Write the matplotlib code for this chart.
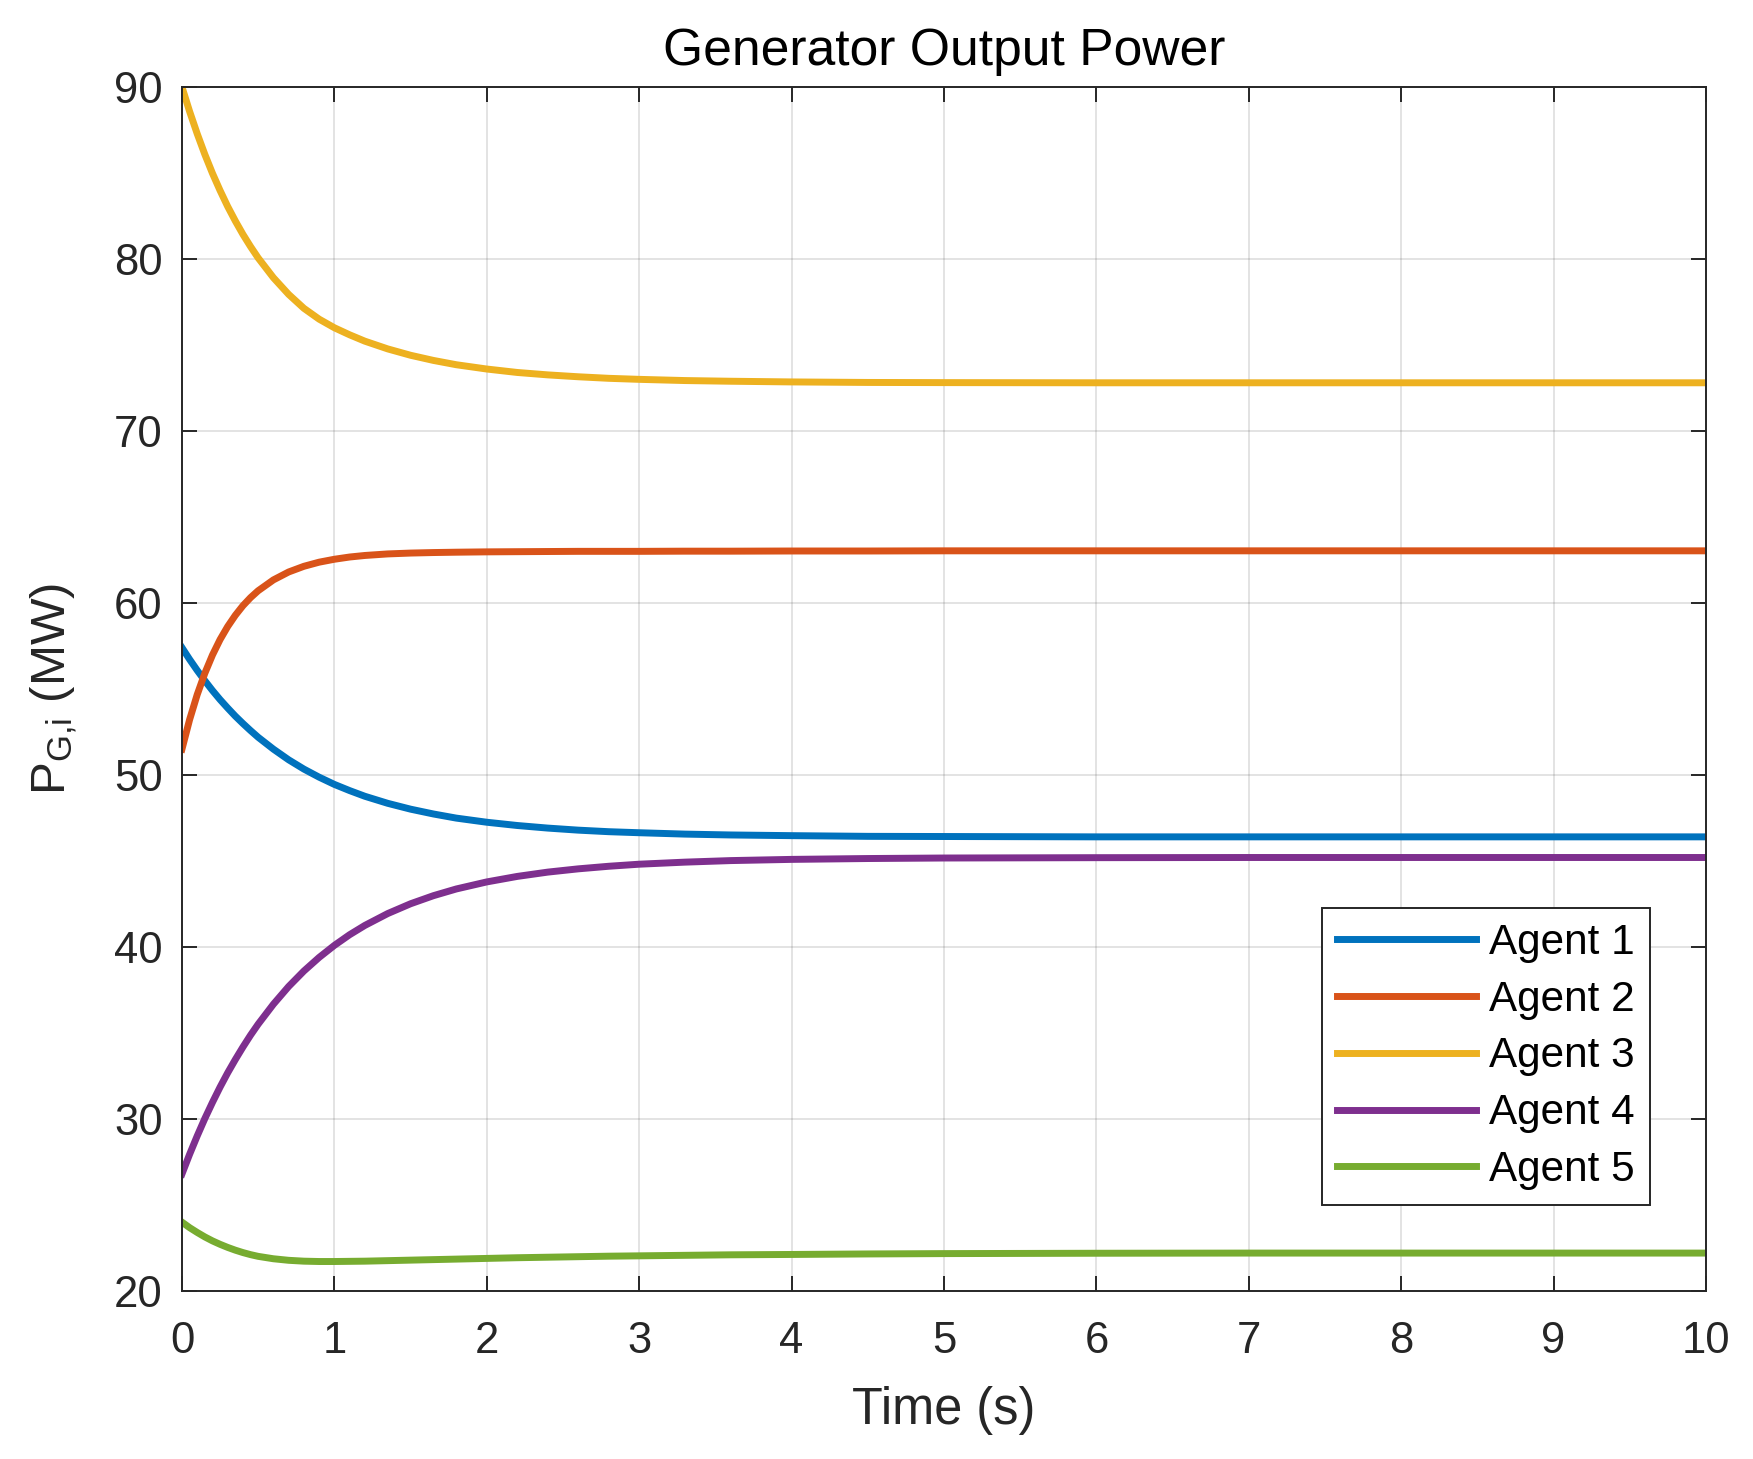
import matplotlib
matplotlib.use("Agg")
import matplotlib.pyplot as plt

# Werte
t = [0, 0.05, 0.1, 0.15, 0.2, 0.25, 0.3, 0.35, 0.4, 0.45, 0.5, 0.6, 0.7,
     0.8, 0.9, 1.0, 1.1, 1.2, 1.35, 1.5, 1.65, 1.8, 2.0, 2.2, 2.4, 2.6,
     2.8, 3.0, 3.3, 3.6, 4.0, 4.5, 5.0, 6.0, 7.0, 8.0, 9.0, 10.0]

agent1 = [57.4, 56.72, 56.08, 55.48, 54.91, 54.38, 53.89, 53.42, 52.99,
          52.58, 52.19, 51.5, 50.88, 50.34, 49.87, 49.45, 49.09, 48.76,
          48.35, 48.01, 47.73, 47.49, 47.25, 47.06, 46.91, 46.79, 46.7,
          46.64, 46.56, 46.51, 46.47, 46.43, 46.42, 46.4, 46.4, 46.4, 46.4,
          46.4]
agent2 = [51.5, 53.21, 54.67, 55.91, 56.97, 57.87, 58.63, 59.28, 59.84,
          60.31, 60.71, 61.34, 61.8, 62.13, 62.37, 62.54, 62.67, 62.76,
          62.85, 62.9, 62.93, 62.95, 62.97, 62.98, 62.99, 63.0, 63.0, 63.0,
          63.01, 63.01, 63.02, 63.02, 63.03, 63.03, 63.03, 63.03, 63.03,
          63.03]
agent3 = [90.0, 88.58, 87.28, 86.08, 84.98, 83.98, 83.05, 82.21, 81.43,
          80.72, 80.06, 78.91, 77.94, 77.13, 76.5, 76.0, 75.59, 75.22,
          74.77, 74.4, 74.1, 73.85, 73.6, 73.4, 73.26, 73.15, 73.06, 73.0,
          72.93, 72.89, 72.85, 72.82, 72.81, 72.8, 72.8, 72.8, 72.8, 72.8]
agent4 = [26.8, 27.94, 29.01, 30.02, 30.96, 31.85, 32.68, 33.45, 34.18,
          34.87, 35.51, 36.67, 37.7, 38.6, 39.39, 40.09, 40.71, 41.25,
          41.94, 42.51, 42.98, 43.37, 43.78, 44.1, 44.35, 44.54, 44.69,
          44.81, 44.93, 45.02, 45.09, 45.14, 45.17, 45.19, 45.2, 45.2, 45.2,
          45.2]
agent5 = [24.0, 23.68, 23.4, 23.14, 22.91, 22.71, 22.53, 22.37, 22.23,
          22.11, 22.01, 21.87, 21.78, 21.73, 21.71, 21.71, 21.72, 21.73,
          21.76, 21.79, 21.82, 21.85, 21.89, 21.93, 21.96, 21.99, 22.02,
          22.04, 22.07, 22.1, 22.12, 22.15, 22.17, 22.19, 22.2, 22.2, 22.2,
          22.2]

series = [agent1, agent2, agent3, agent4, agent5]
labels = ["Agent 1", "Agent 2", "Agent 3", "Agent 4", "Agent 5"]
colors = ["#0072BD", "#D95319", "#EDB120", "#7E2F8E", "#77AC30"]

plt.rcParams['font.family'] = ['Liberation Sans', 'DejaVu Sans']
plt.rcParams['mathtext.fontset'] = 'custom'
plt.rcParams['mathtext.rm'] = 'Liberation Sans'
plt.rcParams['mathtext.it'] = 'Liberation Sans'

dark = "#262626"

fig = plt.figure(figsize=(1753 / 200, 1459 / 200), dpi=200)
ax = fig.add_axes([0.1038, 0.1152, 0.8694, 0.8252])

for y, lab, c in zip(series, labels, colors):
    ax.plot(t, y, color=c, linewidth=2.5, label=lab, solid_joinstyle='round')

ax.set_xlim(0, 10)
ax.set_ylim(20, 90)
ax.set_xticks(range(0, 11))
ax.set_yticks(range(20, 91, 10))

ax.grid(True, color=dark, alpha=0.15, linewidth=0.6)
ax.tick_params(direction='in', length=5.4, width=0.7, colors=dark,
               labelsize=15.7, top=True, right=True, pad=7)
ax.tick_params(axis='x', pad=11)
for sp in ax.spines.values():
    sp.set_color(dark)
    sp.set_linewidth(0.7)

ax.set_title("Generator Output Power", fontsize=18.6, color="black", pad=8)
ax.set_xlabel("Time (s)", fontsize=18.2, color=dark, labelpad=8.5)
ax.set_ylabel(r"P$_{\rm G{,}i}$ (MW)", fontsize=17.8, color=dark, labelpad=12)

leg = ax.legend(loc='lower right', bbox_to_anchor=(0.963, 0.0714),
                fontsize=15.2, frameon=True, fancybox=False, framealpha=1,
                edgecolor=dark, handlelength=3.3, handletextpad=0.3,
                labelspacing=0.4, borderpad=0.35, borderaxespad=0)
leg.get_frame().set_linewidth(0.7)

fig.savefig("out.png", dpi=200)
